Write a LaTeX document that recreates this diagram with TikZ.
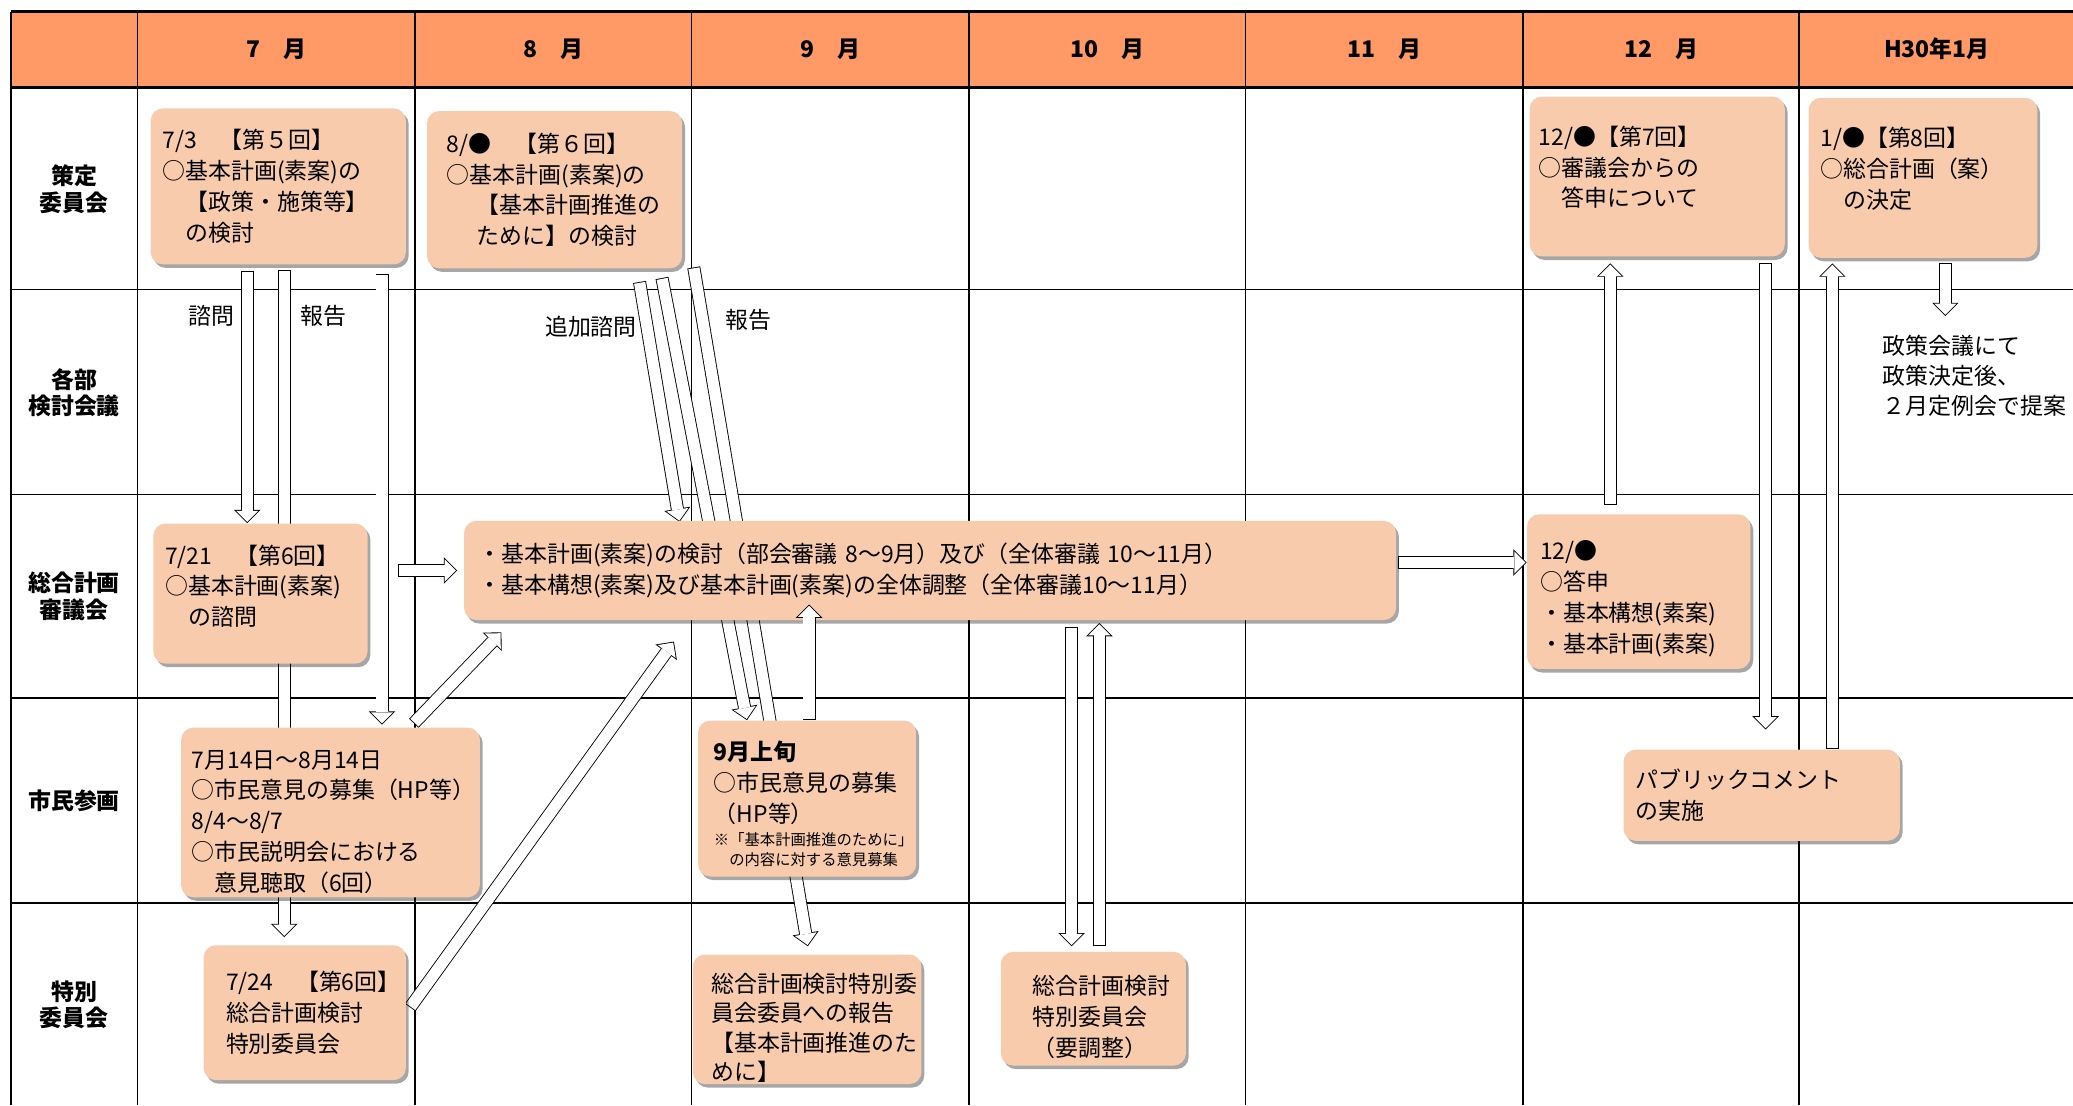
\documentclass[tikz,border=0pt]{standalone}
\usepackage{fontspec}
\setmainfont{Noto Sans CJK JP}
\usetikzlibrary{arrows.meta,calc,shadows}
\pgfdeclarelayer{grid}
\pgfdeclarelayer{arrows}
\pgfsetlayers{grid,arrows,main}
\definecolor{headorange}{RGB}{255,153,102}
\definecolor{boxpeach}{RGB}{248,203,173}
\tikzset{every picture/.style={line width=0.75pt}}
\tikzset{
  planbox/.style={fill=boxpeach, rounded corners=7pt, inner sep=2pt, align=left,
    font=\fontsize{13}{17.5}\selectfont,
    drop shadow={shadow xshift=1.6pt, shadow yshift=-2pt, opacity=0.35, fill=black}},
  rowlabel/.style={font=\bfseries\fontsize{13}{15}\selectfont, align=center},
  monthlabel/.style={font=\bfseries\fontsize{13}{15}\selectfont},
  flowlabel/.style={font=\fontsize{13}{17.25}\selectfont, align=left, inner sep=0pt},
  blockarrow/.style={draw=white, line width=6.4pt, shorten >=0.7pt, shorten <=0.5pt,
    -{Triangle[length=6.3pt, width=12.6pt, line width=0pt]},
    preaction={draw=black, line width=7.4pt, shorten >=0pt, shorten <=0pt,
      -{Triangle[length=7.5pt, width=15pt, line width=0pt]}}}
}
\begin{document}
\begin{tikzpicture}[x=0.75pt,y=0.75pt,yscale=-1,xscale=1]
\useasboundingbox (0,0) rectangle (1568,836);

\begin{pgfonlayer}{grid}
%Shape: Rectangle
\fill [headorange] (8,9) rectangle (1568,66);
%Straight Lines
\draw [line width=1.6pt] (8,9) -- (1568,9) ;
\draw [line width=1.6pt] (8,66) -- (1568,66) ;
\draw [line width=1pt] (8,219) -- (1568,219) ;
\draw [line width=1pt] (8,374) -- (1568,374) ;
\draw [line width=1pt] (8,528) -- (1568,528) ;
\draw [line width=1pt] (8,683) -- (1568,683) ;
%Straight Lines
\draw [line width=1.2pt] (8,9) -- (8,836) ;
\draw [line width=1pt] (104,9) -- (104,836) ;
\draw [line width=1pt] (314,9) -- (314,836) ;
\draw [line width=1pt] (523,9) -- (523,836) ;
\draw [line width=1pt] (733,9) -- (733,836) ;
\draw [line width=1pt] (942,9) -- (942,836) ;
\draw [line width=1pt] (1152,9) -- (1152,836) ;
\draw [line width=1pt] (1361,9) -- (1361,836) ;
\end{pgfonlayer}

% Text Node
\draw (209,37) node [monthlabel] (m7) {7　月};
% Text Node
\draw (418.5,37) node [monthlabel] (m8) {8　月};
% Text Node
\draw (628,37) node [monthlabel] (m9) {9　月};
% Text Node
\draw (837.5,37) node [monthlabel] (m10) {10　月};
% Text Node
\draw (1047,37) node [monthlabel] (m11) {11　月};
% Text Node
\draw (1256.5,37) node [monthlabel] (m12) {12　月};
% Text Node
\draw (1465,37) node [monthlabel] (m1) {H30年1月};

% Text Node
\draw (56,143) node [rowlabel] (r1) {策定\\委員会};
% Text Node
\draw (56,297) node [rowlabel] (r2) {各部\\検討会議};
% Text Node
\draw (56,451) node [rowlabel] (r3) {総合計画\\審議会};
% Text Node
\draw (56,606) node [rowlabel] (r4) {市民参画};
% Text Node
\draw (56,760) node [rowlabel] (r5) {特別\\委員会};

%Shape: Rounded Rectangle
\draw (210.5,141) node [planbox, minimum width=144.75pt, minimum height=88.5pt, text width=131.25pt] (s5) {7/3　【第５回】\\○基本計画(素案)の\\　【政策・施策等】\\　の検討};
%Shape: Rounded Rectangle
\draw (419.5,143.5) node [planbox, minimum width=144.75pt, minimum height=89.25pt, text width=122.25pt] (s6) {8/●　【第６回】\\○基本計画(素案)の\\\hspace*{1.3em}【基本計画推進の\\\hspace*{1.3em}ために】の検討};
%Shape: Rounded Rectangle
\draw (1253.5,133.5) node [planbox, minimum width=144.75pt, minimum height=90.75pt, text width=134.25pt] (s7) {12/●【第7回】\\○審議会からの\\　答申について\\[-6pt]\mbox{}};
%Shape: Rounded Rectangle
\draw (1454.5,134.5) node [planbox, minimum width=129.75pt, minimum height=90.75pt, text width=116.25pt] (s8) {1/●【第8回】\\○総合計画（案）\\　の決定\\[-6pt]\mbox{}};

%Shape: Rounded Rectangle
\draw (197,449) node [planbox, minimum width=121.5pt, minimum height=79.5pt, text width=108pt] (g6) {7/21　【第6回】\\○基本計画(素案)\\　の諮問\\[-8pt]\mbox{}};
%Shape: Rounded Rectangle
\draw (703.5,431.5) node [planbox, minimum width=528.75pt, minimum height=56.25pt, text width=512.25pt] (gall) {・基本計画(素案)の検討（部会審議 8～9月）及び（全体審議 10～11月）\\・基本構想(素案)及び基本計画(素案)の全体調整（全体審議10～11月）};
%Shape: Rounded Rectangle
\draw (1239.5,447.5) node [planbox, minimum width=126.75pt, minimum height=87.75pt, text width=111.75pt] (g7) {\rule{0pt}{19pt}12/●\\○答申\\・基本構想(素案)\\・基本計画(素案)};

%Shape: Rounded Rectangle
\draw (250,614.5) node [planbox, minimum width=169.5pt, minimum height=93.75pt, text width=157.5pt] (c1) {\rule{0pt}{21pt}7月14日～8月14日\\○市民意見の募集（HP等）\\8/4～8/7\\○市民説明会における\\　意見聴取（6回）};
%Shape: Rounded Rectangle
\draw (610.5,604) node [planbox, minimum width=123.75pt, minimum height=88.5pt, text width=105.75pt] (c2) {\rule{0pt}{17pt}\textbf{9月上旬}\\○市民意見の募集\\（HP等）\par\vspace{2pt}{\fontsize{8.7}{11.3}\selectfont ※「基本計画推進のために」\\　の内容に対する意見募集\par}};
%Shape: Rounded Rectangle
\draw (1332.5,601.5) node [planbox, minimum width=156.75pt, minimum height=51.75pt, text width=143.25pt] (c3) {パブリックコメント\\の実施};

%Shape: Rounded Rectangle
\draw (230.5,766) node [planbox, minimum width=114.75pt, minimum height=76.5pt, text width=89.25pt] (t6) {7/24　【第6回】\\総合計画検討\\特別委員会};
%Shape: Rounded Rectangle
\draw (610.5,771) node [planbox, inner sep=0pt, font=\fontsize{13}{16.75}\selectfont, minimum width=129.75pt, minimum height=73.5pt, text width=108.75pt] (t9) {\rule{0pt}{20.5pt}総合計画検討特別委\\員会委員への報告\\【基本計画推進のた\\めに】};
%Shape: Rounded Rectangle
\draw (827,763) node [planbox, minimum width=105pt, minimum height=64.5pt, text width=69pt] (t10) {\rule{0pt}{20.5pt}総合計画検討\\特別委員会\\（要調整）};

% Text Node
\draw (160,239) node [flowlabel] (ask) {諮問};
% Text Node
\draw (245,239) node [flowlabel] (rep1) {報告};
% Text Node
\draw (447,247) node [flowlabel] (addask) {追加諮問};
% Text Node
\draw (566,242) node [flowlabel] (rep2) {報告};
% Text Node
\draw (1424,253) node [flowlabel, anchor=north west] (pol) {政策会議にて\\政策決定後、\\２月定例会で提案};

\begin{pgfonlayer}{arrows}
%Block Arrows
\draw [blockarrow] ($(s5.south -| 187,0)+(0,5)$) -- (g6.north -| 187,0) ;
\draw [blockarrow] ($(s5.south -| 215,0)+(0,4)$) -- ($(t6.north -| 215,0)+(0,-6)$) ;
\draw [blockarrow] ($(s5.south -| 289,0)+(0,7)$) -- ($(c1.north -| 289,0)+(0,-2)$) ;
\draw [blockarrow] ($(g6.east |- gall.west)+(23,0)$) -- ($(gall.west)+(-5,0)$) ;
\draw [blockarrow] ($(c1.north -| 313,0)+(0,-3)$) -- ($(gall.south west)+(28.5,9)$) ;
\draw [blockarrow] ($(t6.east)+(3,-4)$) -- ($(gall.south west)+(159,16)$) ;

%Block Arrows
\draw [blockarrow] ($(s6.south west)+(161,10)$) -- ($(gall.north -| 514,0)+(0,1)$) ;
\draw [blockarrow] ($(s6.south west)+(178,7)$) -- (c2.north -| 565,0) ;
\draw [blockarrow] ($(s6.south east)+(8.5,-1)$) -- ($(t9.north -| 611,0)+(0,-6)$) ;

%Block Arrows
\draw [blockarrow] ($(gall.south -| 810.5,0)+(0,5)$) -- ($(t10.north -| 810.5,0)+(0,-4)$) ;
\draw [blockarrow] ($(t10.north -| 831.5,0)+(0,-4)$) -- ($(gall.south -| 831.5,0)+(0,2)$) ;
\draw [blockarrow] ($(gall.east)+(1,-6)$) -- ($(g7.west |- gall.east)+(0,-6)$) ;

%Block Arrows
\draw [blockarrow] ($(g7.north -| 1218,0)+(0,-7)$) -- ($(s7.south -| 1218,0)+(0,5)$) ;
\draw [blockarrow] ($(s7.south -| 1335.5,0)+(0,5)$) -- ($(c3.north -| 1335.5,0)+(0,-15)$) ;
\draw [blockarrow] (c3.north -| 1386,0) -- ($(s8.south -| 1386,0)+(0,4)$) ;
\draw [blockarrow] ($(s8.south -| 1471.5,0)+(0,4)$) -- ($(pol.north -| 1471.5,0)+(0,-14)$) ;
\end{pgfonlayer}

%Block Arrows
\draw [blockarrow] (c2.north -| 612,0) -- ($(gall.south -| 612,0)+(0,-12)$) ;

\end{tikzpicture}
\end{document}
